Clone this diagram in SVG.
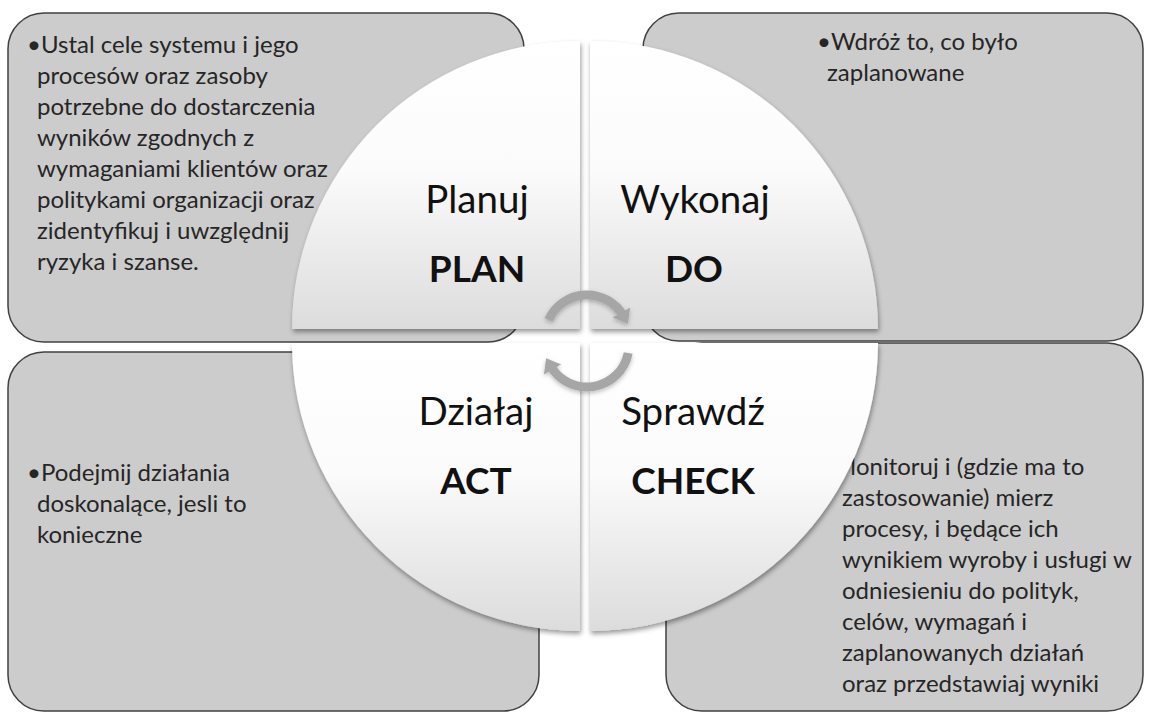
<svg xmlns="http://www.w3.org/2000/svg" width="1151" height="713" viewBox="0 0 1151 713">
<defs>
<linearGradient id="qg" x1="0" y1="0" x2="0" y2="1">
<stop offset="0" stop-color="#ffffff"/>
<stop offset="0.45" stop-color="#fbfbfb"/>
<stop offset="1" stop-color="#dcdcdc"/>
</linearGradient>
<filter id="sh" x="-10%" y="-10%" width="120%" height="125%">
<feDropShadow dx="1" dy="3" stdDeviation="2.5" flood-color="#000" flood-opacity="0.4"/>
</filter>
<filter id="ash" x="-30%" y="-30%" width="160%" height="160%">
<feDropShadow dx="0" dy="2" stdDeviation="2" flood-color="#000" flood-opacity="0.25"/>
</filter>
<marker id="ah" markerUnits="userSpaceOnUse" markerWidth="24" markerHeight="24" viewBox="0 0 24 24" refX="4" refY="12" orient="auto">
<path d="M0,2 L13,12 L0,22 Z" fill="#a6a6a6"/>
</marker>
<style>
.box{fill:#cccccc;stroke:#404040;stroke-width:1.5}
.quad{fill:url(#qg);filter:url(#sh)}
.body{font-family:Lato,"Liberation Sans",sans-serif;font-size:24px;fill:#262626}
.t1{font-family:Lato,"Liberation Sans",sans-serif;font-size:38.5px;fill:#111;text-anchor:middle}
.t2{font-family:Lato,"Liberation Sans",sans-serif;font-size:37px;font-weight:bold;fill:#111;text-anchor:middle}
.arc{fill:none;stroke:#a6a6a6;stroke-width:9;marker-end:url(#ah);filter:url(#ash)}
</style>
</defs>
<rect width="1151" height="713" fill="#ffffff"/>

<g id="box-plan">
<rect class="box" x="8" y="13" width="516" height="329" rx="36" ry="36"/>
<text class="body"><tspan x="27" y="53">•Ustal cele systemu i jego</tspan><tspan x="37" y="84">procesów oraz zasoby</tspan><tspan x="37" y="115">potrzebne do dostarczenia</tspan><tspan x="37" y="146">wyników zgodnych z</tspan><tspan x="37" y="177">wymaganiami klientów oraz</tspan><tspan x="37" y="208">politykami organizacji oraz</tspan><tspan x="37" y="239">zidentyfikuj i uwzględnij</tspan><tspan x="37" y="270">ryzyka i szanse.</tspan></text>
</g>

<g id="box-do">
<rect class="box" x="643" y="13" width="500" height="328" rx="36" ry="36"/>
<text class="body"><tspan x="817" y="50">•Wdróż to, co było</tspan><tspan x="827" y="81">zaplanowane</tspan></text>
</g>

<g id="box-act">
<rect class="box" x="8" y="352" width="531" height="359" rx="36" ry="36"/>
<text class="body"><tspan x="27" y="481">•Podejmij działania</tspan><tspan x="37" y="512">doskonalące, jesli to</tspan><tspan x="37" y="543">konieczne</tspan></text>
</g>

<g id="box-check">
<rect class="box" x="666" y="343" width="477" height="368" rx="36" ry="36"/>
<text class="body"><tspan x="834" y="475">Monitoruj i (gdzie ma to</tspan><tspan x="842" y="506">zastosowanie) mierz</tspan><tspan x="842" y="537">procesy, i będące ich</tspan><tspan x="842" y="568">wynikiem wyroby i usługi w</tspan><tspan x="842" y="599">odniesieniu do polityk,</tspan><tspan x="842" y="630">celów, wymagań i</tspan><tspan x="842" y="661">zaplanowanych działań</tspan><tspan x="842" y="692">oraz przedstawiaj wyniki</tspan></text>
</g>

<g id="quad-plan">
<path class="quad" d="M580,329 L292,329 A288,288 0 0 1 580,41 Z"/>
<text class="t1" x="477" y="213">Planuj</text>
<text class="t2" x="477" y="282">PLAN</text>
</g>
<g id="quad-do">
<path class="quad" d="M590,329 L590,41 A288,288 0 0 1 878,329 Z"/>
<text class="t1" x="695" y="213">Wykonaj</text>
<text class="t2" x="694" y="282">DO</text>
</g>
<g id="quad-check">
<path class="quad" d="M590,343 L878,343 A288,288 0 0 1 590,631 Z"/>
<text class="t1" x="693" y="425">Sprawdź</text>
<text class="t2" x="693" y="494">CHECK</text>
</g>
<g id="quad-act">
<path class="quad" d="M580,343 L580,631 A288,288 0 0 1 292,343 Z"/>
<text class="t1" x="476" y="425">Działaj</text>
<text class="t2" x="476" y="494">ACT</text>
</g>

<g id="connectors">
<path class="arc" d="M548.6,319.9 A42,42 0 0 1 623.4,316"/>
<path class="arc" d="M628.2,353 A42,42 0 0 1 550.6,366"/>
</g>
</svg>
